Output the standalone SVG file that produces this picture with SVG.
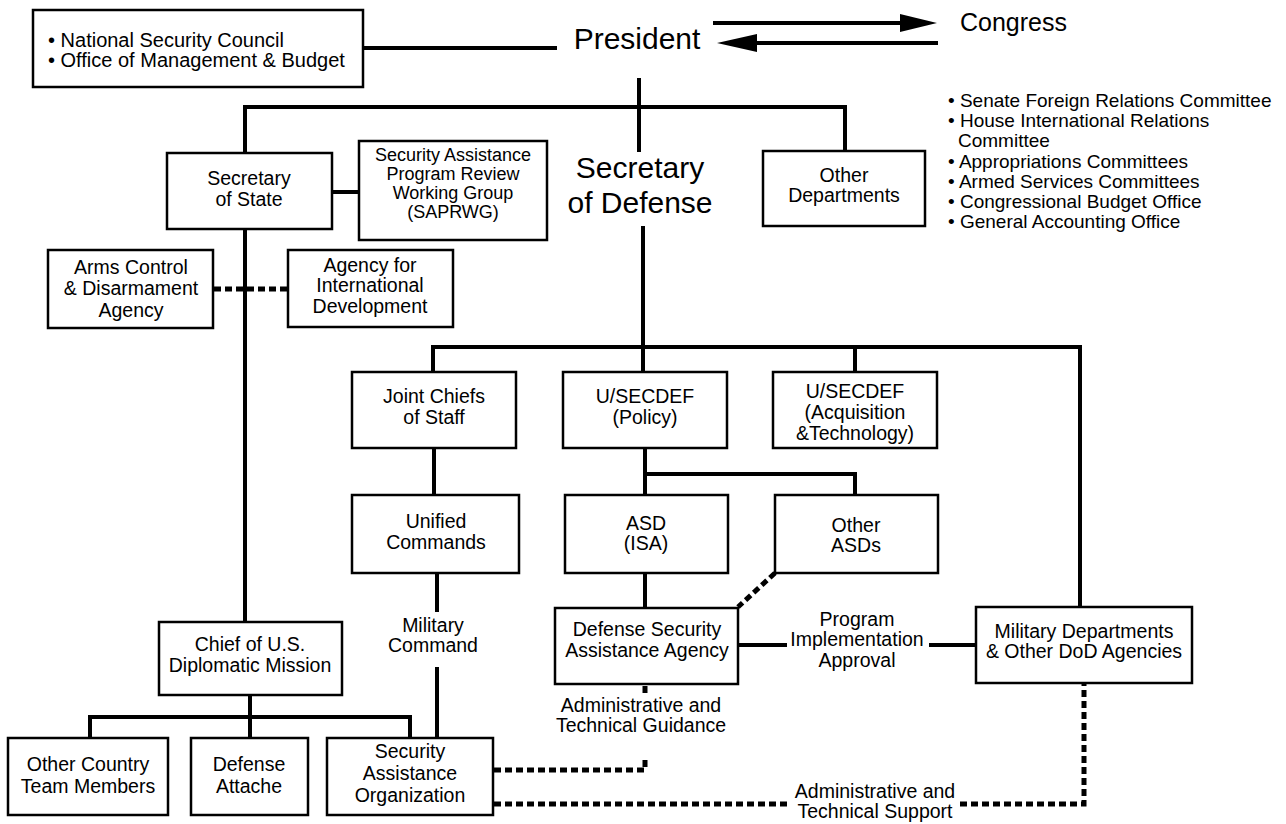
<svg xmlns="http://www.w3.org/2000/svg" width="1286" height="824" viewBox="0 0 1286 824">
<defs>
<style>
.box{fill:#fff;stroke:#000;stroke-width:2.5}
.ln{fill:none;stroke:#000;stroke-width:4}
.dash{fill:none;stroke:#000;stroke-width:5;stroke-dasharray:7 4}
text{font-family:"Liberation Sans",Arial,sans-serif;fill:#000}
.t{font-size:19.5px;text-anchor:middle}
.s{font-size:18px;text-anchor:middle}
.l{font-size:19px}
.big{font-size:30px;text-anchor:middle}
</style>
</defs>
<rect width="1286" height="824" fill="#fff"/>
<g id="connectors">
<line class="ln" x1="363" y1="48" x2="557" y2="48"/>
<line class="ln" x1="713" y1="23" x2="902" y2="23"/>
<polygon points="900,14 937,23 900,32"/>
<line class="ln" x1="938" y1="43" x2="755" y2="43"/>
<polygon points="757,34 717,43 757,52"/>
<line class="ln" x1="639" y1="78" x2="639" y2="152"/>
<polyline class="ln" points="245,153 245,107 845,107 845,151"/>
<line class="ln" x1="332" y1="192" x2="359" y2="192"/>
<line class="ln" x1="245" y1="229" x2="245" y2="622"/>
<line class="dash" x1="214" y1="289" x2="288" y2="289"/>
<line class="ln" x1="643" y1="226" x2="643" y2="372"/>
<polyline class="ln" points="433,372 433,347 1080,347 1080,607"/>
<line class="ln" x1="855" y1="347" x2="855" y2="372"/>
<line class="ln" x1="434" y1="448" x2="434" y2="495"/>
<polyline class="ln" points="645,495 645,448 645,474 855,474 855,495"/>
<line class="ln" x1="645" y1="573" x2="645" y2="608"/>
<line class="dash" x1="775" y1="573" x2="738" y2="607"/>
<line class="ln" x1="437" y1="573" x2="437" y2="612"/>
<line class="ln" x1="437" y1="667" x2="437" y2="738"/>
<line class="ln" x1="738" y1="645" x2="787" y2="645"/>
<line class="ln" x1="929" y1="645" x2="976" y2="645"/>
<polyline class="ln" points="90,738 90,717 410,717 410,738"/>
<line class="ln" x1="250" y1="695" x2="250" y2="738"/>
<line class="dash" x1="645" y1="686" x2="645" y2="696"/>
<polyline class="dash" points="494,770 645,770 645,760"/>
<line class="dash" x1="494" y1="804" x2="790" y2="804"/>
<polyline class="dash" points="960,804 1084,804 1084,684"/>
</g>
<g id="nsc">
<rect class="box" x="33" y="10" width="330" height="77"/>
<text class="l" x="48" y="47" style="font-size:20px">• National Security Council</text>
<text class="l" x="48" y="67" style="font-size:20px">• Office of Management &amp; Budget</text>
</g>
<g id="president"><text class="big" x="637" y="49">President</text></g>
<g id="congress"><text x="960" y="31" style="font-size:25px">Congress</text></g>
<g id="secstate">
<rect class="box" x="167" y="153" width="165" height="76"/>
<text class="t" x="249" y="185">Secretary</text>
<text class="t" x="249" y="206">of State</text>
</g>
<g id="saprwg">
<rect class="box" x="359" y="141" width="188" height="99"/>
<text class="s" x="453" y="161">Security Assistance</text>
<text class="s" x="453" y="180">Program Review</text>
<text class="s" x="453" y="199">Working Group</text>
<text class="s" x="453" y="218">(SAPRWG)</text>
</g>
<g id="secdef">
<text class="big" x="640" y="178">Secretary</text>
<text class="big" x="640" y="213">of Defense</text>
</g>
<g id="otherdepts">
<rect class="box" x="763" y="151" width="162" height="75"/>
<text class="t" x="844" y="182">Other</text>
<text class="t" x="844" y="202">Departments</text>
</g>
<g id="committees">
<text class="l" x="948" y="107">• Senate Foreign Relations Committee</text>
<text class="l" x="948" y="127">• House International Relations</text>
<text class="l" x="958" y="147">Committee</text>
<text class="l" x="948" y="168">• Appropriations Committees</text>
<text class="l" x="948" y="188">• Armed Services Committees</text>
<text class="l" x="948" y="208">• Congressional Budget Office</text>
<text class="l" x="948" y="228">• General Accounting Office</text>
</g>
<g id="acda">
<rect class="box" x="48" y="250" width="165" height="78"/>
<text class="t" x="131" y="274">Arms Control</text>
<text class="t" x="131" y="295">&amp; Disarmament</text>
<text class="t" x="131" y="317">Agency</text>
</g>
<g id="aid">
<rect class="box" x="288" y="250" width="165" height="77"/>
<text class="t" x="370" y="272">Agency for</text>
<text class="t" x="370" y="292">International</text>
<text class="t" x="370" y="313">Development</text>
</g>
<g id="jcs">
<rect class="box" x="352" y="372" width="164" height="76"/>
<text class="t" x="434" y="403">Joint Chiefs</text>
<text class="t" x="434" y="424">of Staff</text>
</g>
<g id="usdp">
<rect class="box" x="563" y="372" width="164" height="76"/>
<text class="t" x="645" y="403">U/SECDEF</text>
<text class="t" x="645" y="424">(Policy)</text>
</g>
<g id="usdat">
<rect class="box" x="773" y="372" width="164" height="76"/>
<text class="t" x="855" y="398">U/SECDEF</text>
<text class="t" x="855" y="419">(Acquisition</text>
<text class="t" x="855" y="440">&amp;Technology)</text>
</g>
<g id="unified">
<rect class="box" x="352" y="495" width="167" height="78"/>
<text class="t" x="436" y="528">Unified</text>
<text class="t" x="436" y="549">Commands</text>
</g>
<g id="asdisa">
<rect class="box" x="565" y="495" width="163" height="78"/>
<text class="t" x="646" y="530">ASD</text>
<text class="t" x="646" y="550">(ISA)</text>
</g>
<g id="otherasds">
<rect class="box" x="775" y="495" width="163" height="78"/>
<text class="t" x="856" y="532">Other</text>
<text class="t" x="856" y="552">ASDs</text>
</g>
<g id="milcmd">
<text class="t" x="433" y="632">Military</text>
<text class="t" x="433" y="652">Command</text>
</g>
<g id="dsaa">
<rect class="box" x="555" y="608" width="183" height="76"/>
<text class="t" x="647" y="636">Defense Security</text>
<text class="t" x="647" y="657">Assistance Agency</text>
</g>
<g id="pia">
<text class="t" x="857" y="626">Program</text>
<text class="t" x="857" y="646">Implementation</text>
<text class="t" x="857" y="667">Approval</text>
</g>
<g id="mildepts">
<rect class="box" x="976" y="607" width="216" height="76"/>
<text class="t" x="1084" y="638">Military Departments</text>
<text class="t" x="1084" y="658">&amp; Other DoD Agencies</text>
</g>
<g id="chief">
<rect class="box" x="159" y="622" width="183" height="73"/>
<text class="t" x="250" y="651">Chief of U.S.</text>
<text class="t" x="250" y="672">Diplomatic Mission</text>
</g>
<g id="atg">
<text class="t" x="641" y="712">Administrative and</text>
<text class="t" x="641" y="732">Technical Guidance</text>
</g>
<g id="octm">
<rect class="box" x="8" y="738" width="160" height="77"/>
<text class="t" x="88" y="771">Other Country</text>
<text class="t" x="88" y="793">Team Members</text>
</g>
<g id="da">
<rect class="box" x="191" y="738" width="117" height="77"/>
<text class="t" x="249" y="771">Defense</text>
<text class="t" x="249" y="793">Attache</text>
</g>
<g id="sao">
<rect class="box" x="327" y="738" width="166" height="77"/>
<text class="t" x="410" y="758">Security</text>
<text class="t" x="410" y="780">Assistance</text>
<text class="t" x="410" y="802">Organization</text>
</g>
<g id="ats">
<text class="t" x="875" y="798">Administrative and</text>
<text class="t" x="875" y="818">Technical Support</text>
</g>
</svg>
